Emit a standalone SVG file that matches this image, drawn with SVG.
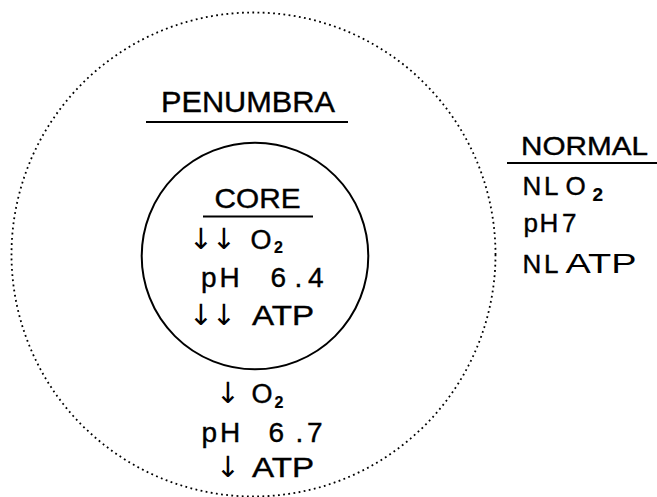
<svg xmlns="http://www.w3.org/2000/svg" width="657" height="497" viewBox="0 0 657 497">
<style>
.t{font-family:"Liberation Sans",Arial,Helvetica,sans-serif;fill:#000;stroke:#000;stroke-width:0.4}
.arr{font-family:"DejaVu Sans",sans-serif;font-size:29px;stroke-width:0}
.sub{font-weight:bold;stroke-width:0.2}
.ul{stroke:#000;stroke-width:2;fill:none}
.zone{fill:none;stroke:#000}
</style>
<rect width="657" height="497" fill="#fff"/>
<g id="penumbra">
<circle class="zone" cx="253.5" cy="254.5" r="242" stroke-width="1.8" stroke-dasharray="1.8 3.4"/>
<text class="t" x="161" y="112" font-size="30" textLength="174" lengthAdjust="spacingAndGlyphs">PENUMBRA</text>
<line class="ul" x1="146" y1="122" x2="348" y2="122"/>
<text class="t" y="403" font-size="27"><tspan class="arr" x="215.8">↓</tspan> <tspan x="251.5">O</tspan><tspan class="sub" x="274.5" dy="5" font-size="16">2</tspan></text>
<text class="t" y="442" font-size="28"><tspan x="201.5">p</tspan><tspan x="220">H</tspan><tspan x="245"> </tspan><tspan x="268.5">6</tspan><tspan x="295.5">.</tspan><tspan x="307">7</tspan></text>
<text class="t" y="477" font-size="28"><tspan class="arr" x="215.8">↓</tspan> <tspan x="252" textLength="62" lengthAdjust="spacingAndGlyphs">ATP</tspan></text>
</g>
<g id="core">
<circle class="zone" cx="255" cy="256" r="113.3" stroke-width="2"/>
<text class="t" x="214.5" y="208" font-size="28" textLength="86" lengthAdjust="spacingAndGlyphs">CORE</text>
<line class="ul" x1="203" y1="216.5" x2="313" y2="216.5"/>
<text class="t" y="249" font-size="27"><tspan class="arr" x="188.8" letter-spacing="-1.3">↓↓</tspan> <tspan x="250.5">O</tspan><tspan class="sub" x="274" dy="4" font-size="16">2</tspan></text>
<text class="t" y="287" font-size="28"><tspan x="201">p</tspan><tspan x="219.5">H</tspan><tspan x="245"> </tspan><tspan x="270.5">6</tspan><tspan x="294.5">.</tspan><tspan x="308">4</tspan></text>
<text class="t" y="325" font-size="28"><tspan class="arr" x="188.8" letter-spacing="-1.3">↓↓</tspan> <tspan x="252" textLength="62" lengthAdjust="spacingAndGlyphs">ATP</tspan></text>
</g>
<g id="normal">
<text class="t" x="521" y="155" font-size="26" textLength="127" lengthAdjust="spacingAndGlyphs">NORMAL</text>
<line class="ul" x1="507" y1="163" x2="657" y2="163"/>
<text class="t" y="195" font-size="26"><tspan x="522.5">N</tspan><tspan x="544">L</tspan><tspan x="560"> </tspan><tspan x="565.5">O</tspan><tspan class="sub" x="592.5" dy="6" font-size="19">2</tspan></text>
<text class="t" y="232" font-size="26"><tspan x="523.5">p</tspan><tspan x="539.5">H</tspan><tspan x="557"> </tspan><tspan x="562">7</tspan></text>
<text class="t" y="273" font-size="26"><tspan x="522.5">N</tspan><tspan x="544">L</tspan><tspan x="559"> </tspan><tspan x="565.5" font-size="27" stroke-width="0" textLength="71" lengthAdjust="spacingAndGlyphs">ATP</tspan></text>
</g>
<g id="connectors"/>
</svg>
